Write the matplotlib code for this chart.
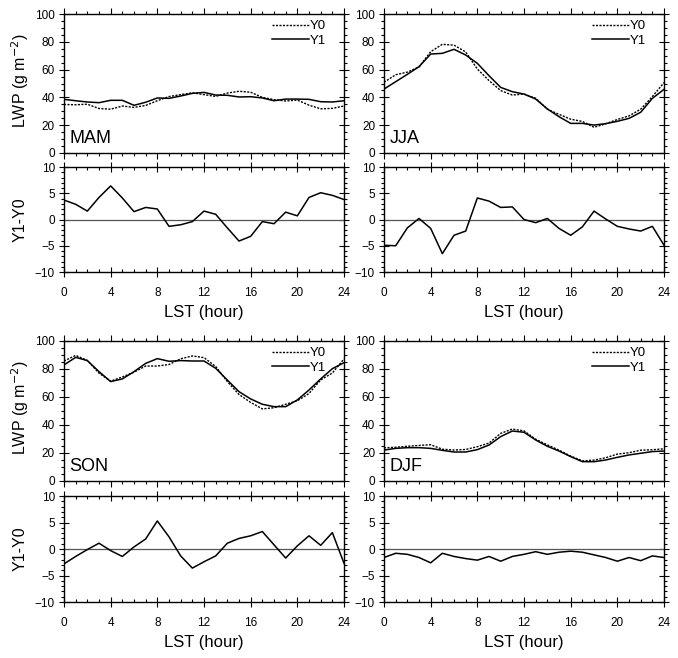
import matplotlib
matplotlib.use("Agg")
import matplotlib.pyplot as plt
from matplotlib.ticker import MultipleLocator

plt.rcParams['font.family'] = ['Liberation Sans', 'DejaVu Sans']

HOURS = list(range(25))
SEASONS = ["MAM", "JJA", "SON", "DJF"]
X_TICKS = [0, 4, 8, 12, 16, 20, 24]

# LWP (g m-2)
MAM_Y0 = [34.9, 34.7, 35.1, 32.0, 31.5, 33.8, 32.8, 34.2, 37.6, 40.6, 42.0, 43.3, 42.0,
          40.7, 43.1, 44.4, 43.7, 40.0, 38.4, 37.4, 38.1, 34.4, 31.8, 32.1, 33.8]
MAM_Y1 = [38.6, 37.6, 36.7, 36.2, 37.9, 37.9, 34.3, 36.5, 39.6, 39.3, 41.0, 42.9, 43.6,
          41.7, 41.5, 40.3, 40.5, 39.6, 37.6, 38.8, 38.8, 38.6, 36.9, 36.7, 37.6]
MAM_DIFF = [3.7, 2.9, 1.6, 4.2, 6.4, 4.1, 1.5, 2.3, 2.0, -1.3, -1.0, -0.4, 1.6,
            1.0, -1.6, -4.1, -3.2, -0.4, -0.8, 1.4, 0.7, 4.2, 5.1, 4.6, 3.8]

JJA_Y0 = [50.9, 56.3, 58.2, 61.9, 72.9, 78.2, 77.6, 72.7, 60.4, 52.1, 44.9, 41.7, 42.4,
          39.4, 31.5, 27.8, 24.3, 22.7, 18.5, 21.0, 24.1, 26.7, 31.5, 40.6, 50.7]
JJA_Y1 = [46.0, 51.3, 56.6, 62.1, 71.2, 71.7, 74.6, 70.5, 64.5, 55.6, 47.2, 44.1, 42.4,
          38.8, 31.7, 26.1, 21.3, 21.3, 20.1, 21.1, 22.8, 24.9, 29.3, 39.3, 45.8]
JJA_DIFF = [-4.9, -5.0, -1.6, 0.2, -1.7, -6.5, -3.0, -2.2, 4.1, 3.5, 2.3, 2.4, 0.0,
            -0.6, 0.2, -1.7, -3.0, -1.4, 1.6, 0.1, -1.3, -1.8, -2.2, -1.3, -4.9]

SON_Y0 = [85.7, 89.7, 86.1, 77.0, 71.3, 74.3, 77.7, 82.1, 82.1, 83.2, 87.3, 89.3, 88.1,
          81.8, 71.0, 61.8, 56.1, 51.5, 52.3, 54.8, 57.3, 62.5, 72.2, 77.1, 87.2]
SON_Y1 = [82.9, 88.3, 86.0, 78.1, 71.0, 72.9, 78.1, 84.0, 87.4, 85.5, 86.0, 85.7, 85.7,
          80.5, 72.1, 63.8, 58.6, 54.8, 53.1, 53.1, 57.9, 65.0, 72.9, 80.2, 84.5]
SON_DIFF = [-2.8, -1.4, -0.1, 1.1, -0.3, -1.4, 0.4, 1.9, 5.3, 2.3, -1.3, -3.6, -2.4,
            -1.3, 1.1, 2.0, 2.5, 3.3, 0.8, -1.7, 0.6, 2.5, 0.7, 3.1, -2.7]

DJF_Y0 = [23.7, 24.1, 24.8, 25.4, 25.9, 22.7, 22.1, 22.5, 24.5, 27.1, 34.0, 37.1, 35.8,
          29.8, 25.8, 22.0, 17.8, 14.4, 14.9, 16.6, 19.2, 20.2, 22.0, 22.3, 23.0]
DJF_Y1 = [22.1, 23.3, 23.8, 23.8, 23.3, 21.9, 20.7, 20.7, 22.4, 25.7, 31.7, 35.7, 34.8,
          29.3, 24.8, 21.4, 17.4, 13.8, 13.8, 15.0, 16.9, 18.6, 19.8, 21.0, 21.4]
DJF_DIFF = [-1.6, -0.8, -1.0, -1.6, -2.6, -0.8, -1.4, -1.8, -2.1, -1.4, -2.3, -1.4, -1.0,
            -0.5, -1.0, -0.6, -0.4, -0.6, -1.1, -1.6, -2.3, -1.6, -2.2, -1.3, -1.6]

Y0 = [MAM_Y0, JJA_Y0, SON_Y0, DJF_Y0]
Y1 = [MAM_Y1, JJA_Y1, SON_Y1, DJF_Y1]
DIFF = [MAM_DIFF, JJA_DIFF, SON_DIFF, DJF_DIFF]

# ── layout (figure fractions) ────────────────────────────────────────────────
COL_X = [0.0944, 0.5664]
W = 0.413
ROWS = [((0.7675, 0.2112), (0.5866, 0.1596)),
        ((0.2690, 0.2128), (0.0851, 0.1610))]

FS_TICK = 8.5
MAJ, MIN = 4.3, 2.5


def style_ticks(ax, xdir):
    ax.xaxis.set_minor_locator(MultipleLocator(1))
    ax.tick_params(axis="both", which="both", top=True, right=True,
                   labelsize=FS_TICK, width=0.8, pad=3)
    ax.tick_params(axis="y", which="major", direction="inout", length=MAJ * 1.6)
    ax.tick_params(axis="y", which="minor", direction="out", length=MIN)
    if xdir == "in":
        ax.tick_params(axis="x", which="major", direction="inout", length=MAJ * 1.6)
        ax.tick_params(axis="x", which="minor", direction="in", length=MIN)
    else:
        ax.tick_params(axis="x", which="major", direction="out", length=MAJ)
        ax.tick_params(axis="x", which="minor", direction="out", length=MIN)
    for sp in ax.spines.values():
        sp.set_linewidth(1.0)


fig = plt.figure(figsize=(6.78, 6.58), dpi=100, facecolor="white")

for i, season in enumerate(SEASONS):
    r, c = divmod(i, 2)
    (tb, th), (db, dh) = ROWS[r]

    ax = fig.add_axes([COL_X[c], tb, W, th])
    ax.plot(HOURS, Y0[i], color="black", lw=1.0, ls=(0, (1.5, 1.0)), label="Y0")
    ax.plot(HOURS, Y1[i], color="black", lw=1.1, label="Y1")
    ax.set_xlim(0, 24); ax.set_ylim(0, 100)
    ax.set_xticks(X_TICKS); ax.set_xticklabels([])
    ax.yaxis.set_major_locator(MultipleLocator(20))
    ax.yaxis.set_minor_locator(MultipleLocator(5))
    style_ticks(ax, "out")
    ax.text(0.02, 0.04, season, transform=ax.transAxes, fontsize=13,
            ha="left", va="bottom")
    ax.legend(loc="upper right", bbox_to_anchor=(0.945, 0.975), frameon=False,
              fontsize=9.5, handlelength=2.8, handletextpad=0.05,
              labelspacing=0.15, borderaxespad=0, borderpad=0.2)

    axd = fig.add_axes([COL_X[c], db, W, dh])
    axd.axhline(0, color="#555555", lw=0.9)
    axd.plot(HOURS, DIFF[i], color="black", lw=1.1)
    axd.set_xlim(0, 24); axd.set_ylim(-10, 10)
    axd.set_xticks(X_TICKS)
    axd.yaxis.set_major_locator(MultipleLocator(5))
    axd.yaxis.set_minor_locator(MultipleLocator(1))
    style_ticks(axd, "in")
    axd.tick_params(axis="x", which="major", pad=7)

    fig.text(COL_X[c] + W / 2, db - 0.062, "LST (hour)", ha="center",
             va="center", fontsize=12)

    if c == 0:
        fig.text(0.0295, tb + th / 2 + 0.005, "LWP (g m$^{-2}$)", rotation=90,
                 ha="center", va="center", fontsize=11.5)
        fig.text(0.0295, db + dh / 2, "Y1-Y0", rotation=90,
                 ha="center", va="center", fontsize=11.5)

fig.savefig("out.png", dpi=100, facecolor="white")
